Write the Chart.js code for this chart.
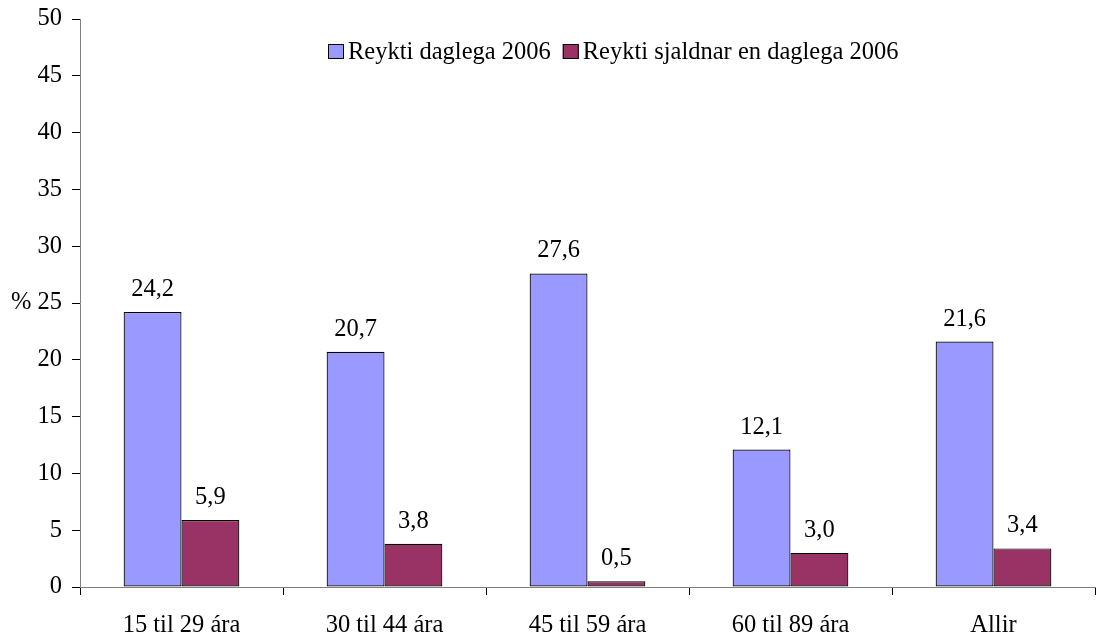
<!DOCTYPE html>
<html>
<head>
<meta charset="utf-8">
<script src="https://cdn.jsdelivr.net/npm/chart.js@4/dist/chart.umd.min.js"></script>
<style>
  body { margin: 0; background: #fff; }
  #wrap { width: 1097px; height: 637px; }
</style>
</head>
<body>
<div id="wrap"><canvas id="myChart"></canvas></div>
<script>
// Categories and series
var categories = ['15 til 29 ára', '30 til 44 ára', '45 til 59 ára', '60 til 89 ára', 'Allir'];
var dailySmokers = [24.2, 20.7, 27.6, 12.1, 21.6];
var occasionalSmokers = [5.9, 3.8, 0.5, 3.0, 3.4];
var seriesNames = ['Reykti daglega 2006', 'Reykti sjaldnar en daglega 2006'];
var yTicks = [0, 5, 10, 15, 20, 25, 30, 35, 40, 45, 50];

var font = '"Liberation Serif", "Times New Roman", serif';
var fontSize = 24.5;
Chart.defaults.font.family = font;
Chart.defaults.font.size = fontSize;
Chart.defaults.color = '#000';

// Draws values above bars, the % title and the legend inside the plot
const extras = {
  id: 'extras',
  afterDatasetsDraw(chart) {
    const ctx = chart.ctx;
    ctx.save();
    ctx.font = fontSize + 'px ' + font;
    ctx.fillStyle = '#000';
    ctx.textAlign = 'center';
    ctx.textBaseline = 'alphabetic';
    chart.data.datasets.forEach((ds, i) => {
      chart.getDatasetMeta(i).data.forEach((bar, j) => {
        ctx.fillText(ds.data[j].toFixed(1).replace('.', ','), bar.x, bar.y - 16);
      });
    });

    // y axis title
    const y = chart.scales.y;
    ctx.textAlign = 'left';
    ctx.textBaseline = 'middle';
    ctx.fillText('%', 11, y.getPixelForValue(25));

    // legend
    let x = 328;
    const base = 59;
    ctx.textBaseline = 'alphabetic';
    chart.data.datasets.forEach((ds) => {
      ctx.fillStyle = ds.backgroundColor;
      ctx.fillRect(x, base - 15, 16, 15);
      ctx.strokeStyle = '#000';
      ctx.lineWidth = 1;
      ctx.strokeRect(x + 0.5, base - 14.5, 15, 14);
      ctx.fillStyle = '#000';
      ctx.fillText(ds.label, x + 20, base);
      x += 20 + ctx.measureText(ds.label).width + 12;
    });
    ctx.restore();
  }
};

const ctx = document.getElementById('myChart');
var myChart = new Chart(ctx, {
  type: 'bar',
  data: {
    labels: categories,
    datasets: [{
      label: seriesNames[0],
      data: dailySmokers,
      backgroundColor: '#9999FF',
      borderColor: '#000',
      borderWidth: 1.2,
      borderSkipped: false,
    }, {
      label: seriesNames[1],
      data: occasionalSmokers,
      backgroundColor: '#993366',
      borderColor: '#000',
      borderWidth: 1.2,
      borderSkipped: false,
    }]
  },
  options: {
    responsive: true,
    maintainAspectRatio: false,
    animation: false,
    layout: { padding: { top: 19, right: 2, left: 0, bottom: 0 } },
    datasets: { bar: { categoryPercentage: 0.57, barPercentage: 1.0 } },
    scales: {
      x: {
        grid: { display: true, drawOnChartArea: false, offset: true, tickLength: 8, color: '#000' },
        border: { color: '#808080', width: 1 },
        ticks: { padding: 16, font: { size: fontSize } },
        afterFit: (scale) => { scale.height = 50; scale.paddingLeft = 0; scale.paddingRight = 0; }
      },
      y: {
        min: 0,
        max: 50,
        afterBuildTicks: (scale) => { scale.ticks = yTicks.map(v => ({ value: v })); },
        grid: { display: true, drawOnChartArea: false, tickLength: 8, color: '#000' },
        border: { color: '#808080', width: 1 },
        ticks: { padding: 10, font: { size: fontSize } },
        afterFit: (scale) => { scale.width = 80; scale.paddingTop = 0; scale.paddingBottom = 0; }
      }
    },
    plugins: {
      legend: { display: false },
      tooltip: { enabled: false }
    }
  },
  plugins: [extras]
});
</script>
</body>
</html>
